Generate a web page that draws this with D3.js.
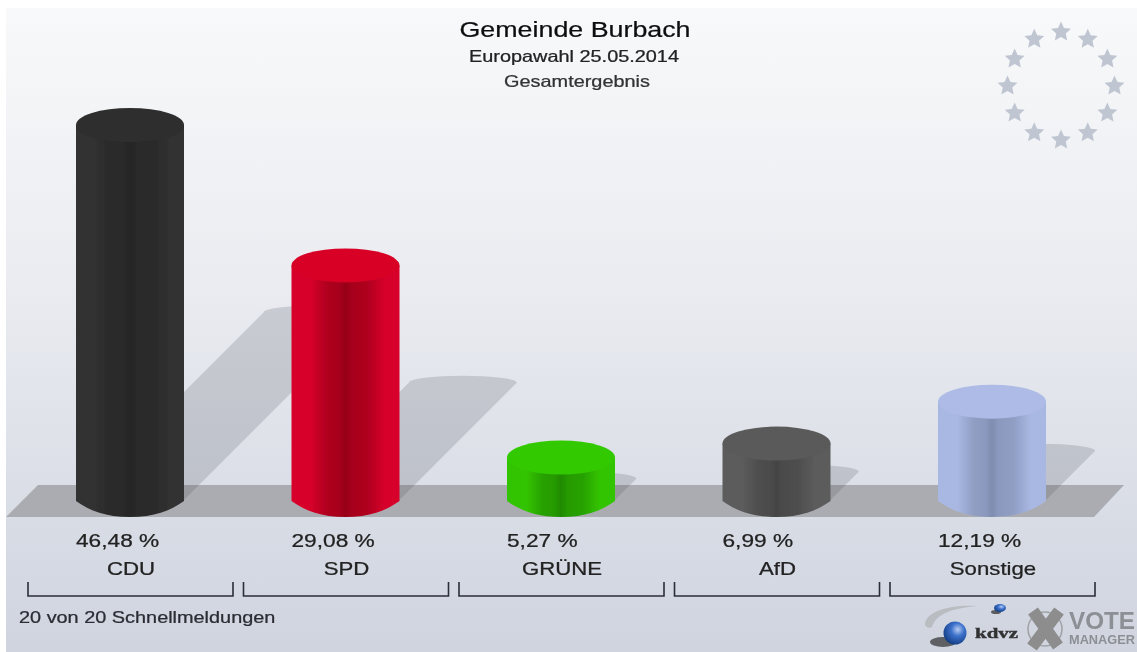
<!DOCTYPE html>
<html><head><meta charset="utf-8">
<script src="https://cdnjs.cloudflare.com/ajax/libs/d3/7.8.5/d3.min.js"></script>
<style>html,body{margin:0;padding:0;background:#fff}svg{display:block}text{font-family:"Liberation Sans",Arial,sans-serif}</style>
</head><body><div id="chart"></div>
<script>
const categories = ["CDU","SPD","GRÜNE","AfD","Sonstige"];
const values = [46.48,29.08,5.27,6.99,12.19];
const topColors = ["#2f2f2f","#d90028","#33c900","#5a5a5a","#adbbe6"];
const edgeColors = ["#303030","#d6002a","#33c400","#5c5c5c","#a9b8e2"];
const midColors = ["#262626","#950017","#1f8a00","#444444","#7f8db0"];
const titleLines = ["Gemeinde Burbach","Europawahl 25.05.2014","Gesamtergebnis"];
const footer = "20 von 20 Schnellmeldungen";

const W=1137,H=652,floorY=500,rx=54,ry=17,sx=1.22;
const svg=d3.select("#chart").append("svg").attr("width",W).attr("height",H);
const defs=svg.append("defs");
const blur=defs.append("filter").attr("id","soft").attr("x",0).attr("y",0).attr("width",1).attr("height",1);
blur.append("feGaussianBlur").attr("stdDeviation",0.6);
const bg=defs.append("linearGradient").attr("id","bg").attr("x1",0).attr("y1",0).attr("x2",0).attr("y2",1);
[[0,"#f8f9fa"],[0.45,"#e9ebf0"],[0.8,"#d8dce5"],[1,"#cfd4df"]].forEach(s=>bg.append("stop").attr("offset",s[0]).attr("stop-color",s[1]));
categories.forEach((c,i)=>{
  const g=defs.append("linearGradient").attr("id","cyl"+i);
  const mix=t=>d3.interpolateRgb(edgeColors[i],midColors[i])(t);
  [[0,edgeColors[i]],[0.18,edgeColors[i]],[0.33,mix(0.6)],[0.44,mix(0.72)],[0.5,midColors[i]],[0.56,mix(0.72)],[0.7,mix(0.6)],[0.86,edgeColors[i]],[1,edgeColors[i]]]
    .forEach(s=>g.append("stop").attr("offset",s[0]).attr("stop-color",s[1]));
});
const sph=defs.append("radialGradient").attr("id","sph").attr("cx",0.62).attr("cy",0.35).attr("r",0.7);
[[0,"#b9cdf2"],[0.4,"#3d72cc"],[1,"#123a80"]].forEach(s=>sph.append("stop").attr("offset",s[0]).attr("stop-color",s[1]));

const root=svg.append("g").attr("filter","url(#soft)");
const x=d3.scalePoint().domain(categories).range([130,992]);
const y=d3.scaleLinear().domain([0,46.48]).range([floorY,125]);

root.append("rect").attr("x",6).attr("y",8).attr("width",W-6).attr("height",H-8).attr("fill","url(#bg)");

// stars
const stars=d3.range(12).map(i=>i*30);
const starPath=d3.lineRadial().curve(d3.curveLinearClosed)(d3.range(10).map(i=>[i*Math.PI/5,i%2?5:10.5]));
root.append("g").selectAll("path").data(stars).join("path").attr("d",starPath).attr("fill","#bfc6d2")
  .attr("transform",a=>`translate(${1061+53.5*Math.sin(a*Math.PI/180)},${86-54*Math.cos(a*Math.PI/180)})`);

// floor
root.append("path").attr("d",d3.line()([[38,485],[1124,485],[1094,517],[6,517]])+"Z").attr("fill","#aaacb1");

// shadows
root.append("g").selectAll("path").data(categories).join("path")
  .attr("d",(c,i)=>{const s=(floorY-y(values[i]))/2,cx=x(c);
    return `M${cx-rx},${floorY}L${cx-rx+s},${floorY-s}A${rx},7 0 0 1 ${cx+rx+s},${floorY-s}L${cx+rx},${floorY}Z`;})
  .attr("fill","#4a4f5a").attr("fill-opacity",0.2);

// cylinders
const bars=root.append("g").selectAll("g").data(categories).join("g");
bars.append("path").attr("d",(c,i)=>{const cx=x(c),t=y(values[i]),b=floorY+ry;
  return `M${cx-rx},${t}L${cx-rx},${floorY+1}C${cx-40},${floorY+11} ${cx-24},${b} ${cx},${b}C${cx+24},${b} ${cx+40},${floorY+11} ${cx+rx},${floorY+1}L${cx+rx},${t}Z`;})
  .attr("fill",(c,i)=>`url(#cyl${i})`);
bars.append("ellipse").attr("cx",c=>x(c)).attr("cy",(c,i)=>y(values[i])).attr("rx",rx).attr("ry",ry)
  .attr("fill",(c,i)=>topColors[i]);

function label(px,py,txt,size,anchor,fill){
  root.append("text").attr("transform",`translate(${px},${py}) scale(${sx},1)`)
    .attr("text-anchor",anchor||"middle").attr("font-size",size).attr("fill",fill||"#222")
    .attr("stroke",fill||"#222").attr("stroke-width",0.25).text(txt);
}
label(575,37,titleLines[0],22,"middle","#111");
label(574,62,titleLines[1],16.3,"middle","#222");
label(577,87,titleLines[2],16.3,"middle","#333");

categories.forEach((c,i)=>{
  label(x(c)-rx,547,values[i].toFixed(2).replace(".",",")+" %",18.6,"start");
  label(x(c)+1,575,c,18.2,"middle");
  const l=x(c)-102,r=x(c)+103;
  root.append("path").attr("d",d3.line()([[l,582],[l,596],[r,596],[r,582]])).attr("fill","none").attr("stroke","#2b2f38").attr("stroke-width",1.6);
});
label(19,623,footer,16.3,"start","#2a2d33");

// logos
const logo=root.append("g");
logo.append("path").attr("d","M925,624C926,611 952,604 977,606C955,608 936,613 932,627C930,629 925,627 925,624Z").attr("fill","#b9bcc1");
logo.append("ellipse").attr("cx",943).attr("cy",642).attr("rx",13).attr("ry",5).attr("fill","#3a3a3a").attr("opacity",0.75);
logo.append("circle").attr("cx",955).attr("cy",633).attr("r",11.5).attr("fill","url(#sph)");
logo.append("ellipse").attr("cx",996).attr("cy",612).attr("rx",5).attr("ry",2).attr("fill","#333").attr("opacity",0.75);
logo.append("ellipse").attr("cx",1000).attr("cy",608).attr("rx",6).attr("ry",4).attr("fill","url(#sph)");
logo.append("text").attr("x",975).attr("y",638).attr("font-size",15).attr("font-weight",700).attr("fill","#333").attr("stroke","#333").attr("stroke-width",0.4).attr("textLength",43).attr("lengthAdjust","spacingAndGlyphs").style("font-family","'Liberation Serif',serif").text("kdvz");
logo.append("circle").attr("cx",1045).attr("cy",629).attr("r",17).attr("fill","none").attr("stroke","#a0a2a6").attr("stroke-width",1.5);
logo.append("path").attr("d","M1033,611L1058,646M1059,611L1032,647").attr("stroke","#8d8d8d").attr("stroke-width",12).attr("fill","none");
logo.append("text").attr("x",1069).attr("y",629).attr("font-size",23).attr("font-weight",700).attr("fill","#8c8f94").attr("textLength",66).attr("lengthAdjust","spacingAndGlyphs").text("VOTE");
logo.append("text").attr("x",1069).attr("y",643.5).attr("font-size",12.5).attr("font-weight",700).attr("fill","#8c8f94").attr("textLength",66).attr("lengthAdjust","spacingAndGlyphs").text("MANAGER");
</script></body></html>
